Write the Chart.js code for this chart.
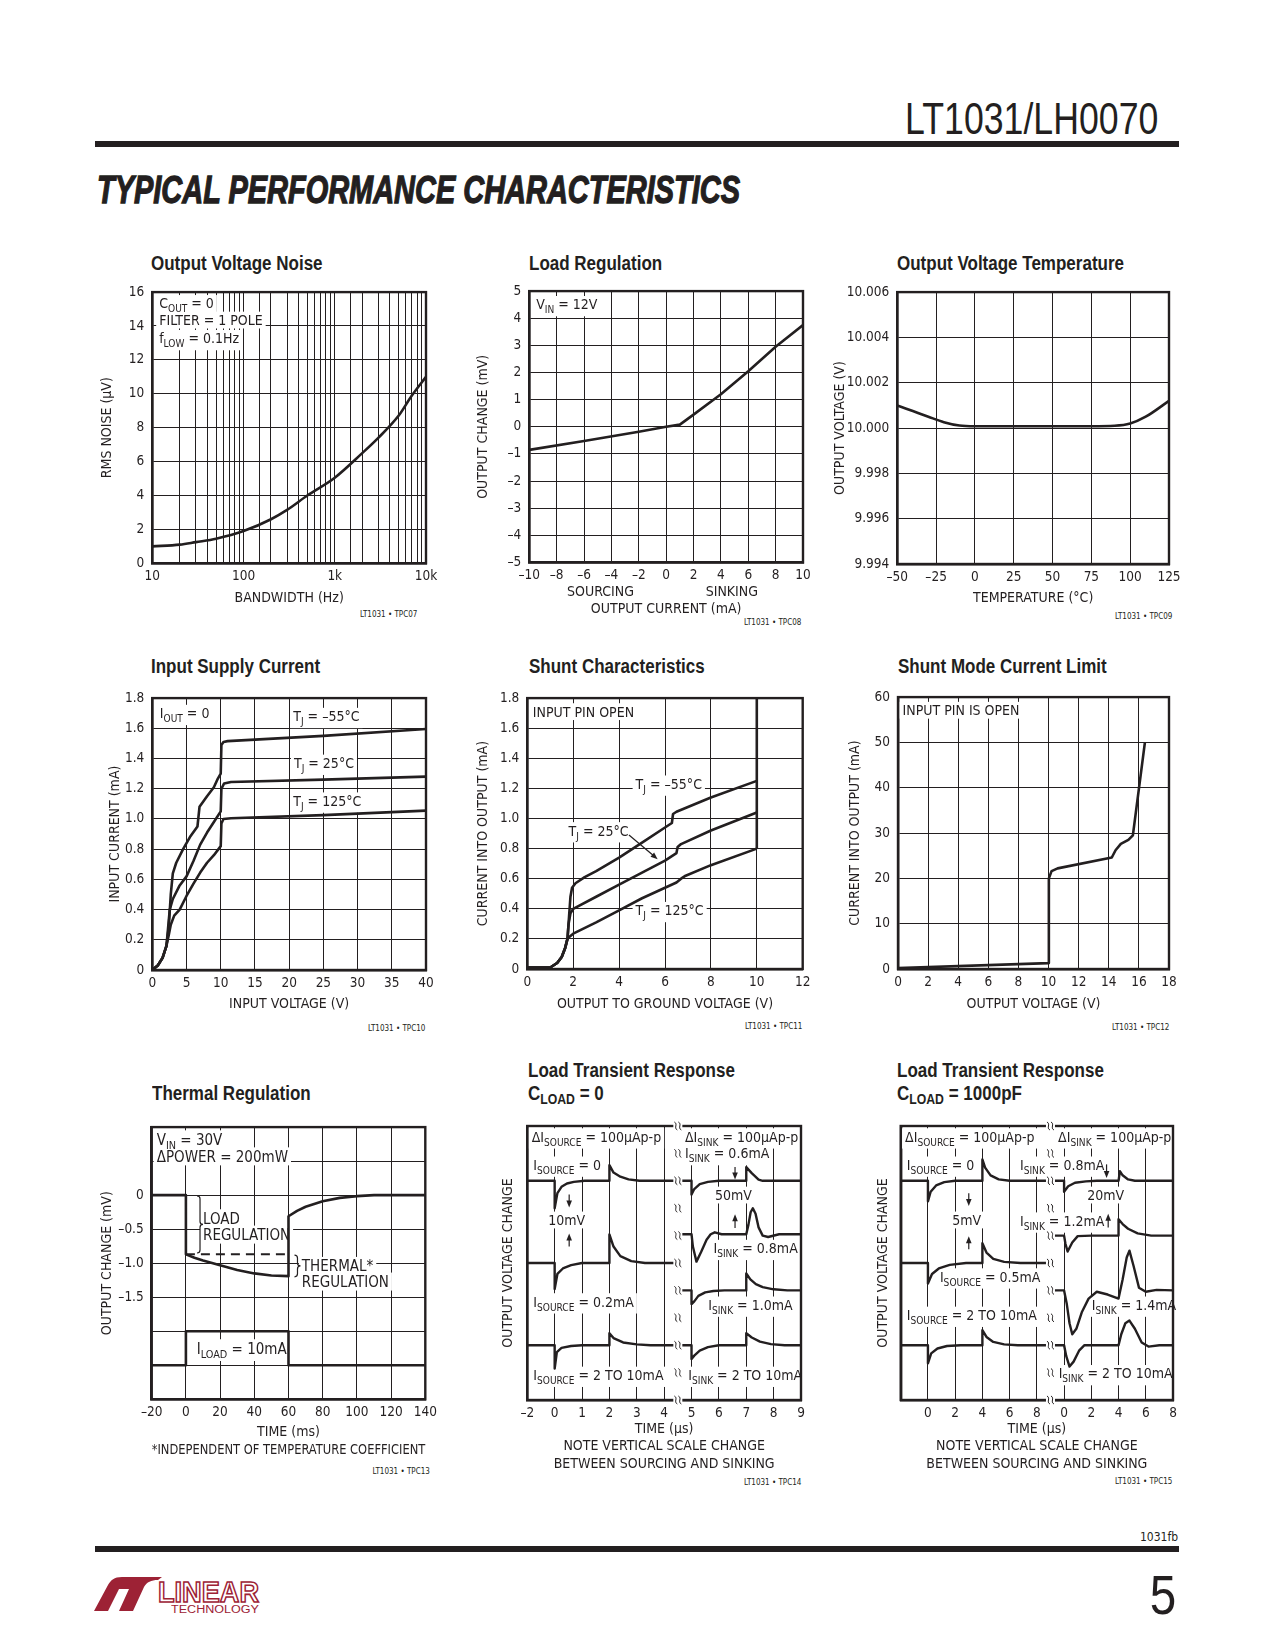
<!DOCTYPE html>
<html>
<head>
<meta charset="utf-8">
<script src="https://cdn.jsdelivr.net/npm/chart.js@4.4.0/dist/chart.umd.min.js"></script>
<style>
  body { margin: 0; background: #fff; }
  #page { position: relative; width: 1275px; height: 1650px; overflow: hidden; background: #fff; color: #231f20;
          font-family: 'Liberation Sans Narrow', 'DejaVu Sans Condensed', sans-serif; }
  .t { position: absolute; white-space: nowrap; line-height: 1; }
  .t sub { font-size: 0.72em; vertical-align: -0.28em; line-height: 0; }
  canvas { position: absolute; }
  .rule { position: absolute; background: #231f20; }
</style>
</head>
<body>
<div id="page"></div>
<script>
// ---------- data ----------

// Output Voltage Noise
const noiseBandwidth = [10, 20, 30, 50, 100, 200, 300, 500, 1000, 2000, 3000, 5000, 7000, 10000];
const noiseRms = [1.0, 1.1, 1.25, 1.45, 1.9, 2.6, 3.15, 4.0, 5.05, 6.5, 7.4, 8.7, 9.9, 11.0];
const noiseTickLabels = { 10: '10', 100: '100', 1000: '1k', 10000: '10k' };

// Load Regulation
const loadRegCurrent = [-10, -6, -2, 0, 1, 2, 4, 6, 8, 10];
const loadRegChange = [-0.85, -0.52, -0.18, 0, 0.08, 0.45, 1.2, 2.05, 2.95, 3.75];

// Output Voltage Temperature
const tempC = [-50, -40, -30, -20, -10, 0, 25, 50, 75, 90, 100, 110, 125];
const tempVout = [10.001, 10.00075, 10.0005, 10.00026, 10.00011, 10.00008, 10.00008, 10.00008, 10.00008, 10.0001, 10.0002, 10.0005, 10.0012];

// Input Supply Current
const supplyVinCold = [0, 0.8, 1.5, 2.07, 2.4, 2.7, 3.0, 3.5, 4.5, 5.5, 6.6, 6.9, 8.0, 9.0, 9.5, 10.0, 10.1, 10.4, 11, 25, 40];
const supplyIinCold = [0, 0.03, 0.08, 0.16, 0.28, 0.5, 0.64, 0.71, 0.8, 0.88, 0.95, 1.08, 1.15, 1.21, 1.26, 1.3, 1.49, 1.51, 1.515, 1.55, 1.595];
const supplyVinRoom = [0, 0.8, 1.5, 2.07, 2.55, 3.0, 4.0, 5.0, 6.0, 7.0, 8.0, 9.0, 10.0, 10.1, 10.5, 11.5, 25, 40];
const supplyIinRoom = [0, 0.03, 0.08, 0.16, 0.4, 0.47, 0.56, 0.62, 0.72, 0.83, 0.91, 0.98, 1.05, 1.2, 1.235, 1.245, 1.26, 1.28];
const supplyVinHot = [0, 0.8, 1.5, 2.07, 2.4, 2.7, 3.2, 4.0, 5.0, 6.0, 7.0, 8.0, 9.0, 10.0, 10.1, 10.4, 11.5, 25, 40];
const supplyIinHot = [0, 0.03, 0.08, 0.16, 0.23, 0.3, 0.36, 0.4, 0.49, 0.57, 0.645, 0.71, 0.76, 0.82, 0.97, 1.0, 1.005, 1.025, 1.055];

// Shunt Characteristics
const shuntVoutCold = [0, 1.0, 1.3, 1.5, 1.65, 1.75, 1.82, 1.88, 1.95, 2.1, 2.5, 3, 4, 5, 6, 6.3, 6.35, 6.5, 8, 10];
const shuntIoutCold = [0.01, 0.01, 0.04, 0.08, 0.14, 0.2, 0.35, 0.48, 0.54, 0.57, 0.61, 0.65, 0.74, 0.84, 0.94, 0.97, 1.03, 1.045, 1.14, 1.25];
const shuntVoutRoom = [0, 1.0, 1.3, 1.5, 1.65, 1.75, 1.8, 1.88, 2.0, 3, 4, 5, 6, 6.5, 6.55, 6.7, 8, 10];
const shuntIoutRoom = [0.01, 0.01, 0.04, 0.08, 0.14, 0.2, 0.3, 0.37, 0.4, 0.48, 0.56, 0.64, 0.72, 0.77, 0.81, 0.83, 0.92, 1.04];
const shuntVoutHot = [0, 1.0, 1.3, 1.5, 1.65, 1.75, 1.8, 2.0, 3, 4, 5, 6, 6.5, 6.7, 6.9, 8, 10];
const shuntIoutHot = [0.01, 0.01, 0.04, 0.08, 0.14, 0.2, 0.21, 0.235, 0.31, 0.39, 0.47, 0.54, 0.575, 0.6, 0.62, 0.69, 0.8];
const shuntClampV = [10, 10];
const shuntClampI = [0.8, 1.8];

// Shunt Mode Current Limit
const limitVout = [0, 10, 10.02, 10.2, 10.6, 14.2, 14.45, 14.8, 15.3, 15.6, 16.4];
const limitIout = [0.2, 1.3, 20, 21.6, 22.2, 24.6, 26.2, 27.6, 28.5, 29.5, 50];

// Thermal Regulation
const thermTime = [-20, 0, 0, 5, 10, 20, 30, 40, 50, 60, 60, 65, 70, 80, 90, 100, 110, 140];
const thermChange = [0, 0, -0.87, -0.92, -0.96, -1.03, -1.1, -1.15, -1.18, -1.19, -0.31, -0.23, -0.17, -0.09, -0.04, -0.015, 0, 0];
const thermLoadRegTime = [0, 60];
const thermLoadRegLevel = [-0.87, -0.87];
const thermStepTime = [-20, 0, 0, 60, 60, 140];
const thermStepLevel = [-2.5, -2.5, -2.0, -2.0, -2.5, -2.5];

// Load Transient Response, CLOAD = 0 (grid divisions)
const c0TickLabels = ['–2', '0', '1', '2', '3', '4', '5', '6', '7', '8', '9'];
const c0Src0X = [0, 1, 1, 1.1, 1.25, 1.45, 1.7, 2.1, 3, 3, 3.15, 3.4, 3.7, 4.1, 5.5];
const c0Src0Y = [8, 8, 7.0, 7.55, 7.78, 7.9, 7.96, 8, 8, 8.57, 8.3, 8.15, 8.05, 8, 8];
const c0Src02X = [0, 1, 1, 1.1, 1.3, 1.6, 2.0, 3, 3, 3.15, 3.4, 3.8, 4.3, 5.5];
const c0Src02Y = [5, 5, 4.05, 4.6, 4.8, 4.92, 5, 5, 6.04, 5.6, 5.25, 5.07, 5, 5];
const c0Src10X = [0, 1, 1, 1.08, 1.25, 1.6, 2, 3, 3, 3.15, 3.5, 4, 4.5, 5.5];
const c0Src10Y = [2, 2, 1.15, 1.75, 1.9, 1.97, 2, 2, 2.44, 2.26, 2.1, 2.03, 2, 2];
const c0Sink06X = [5.5, 6, 6, 6.1, 6.3, 6.6, 7, 8, 8, 8.2, 8.45, 8.6, 10];
const c0Sink06Y = [8, 8, 7.5, 7.7, 7.88, 7.96, 8, 8, 8.5, 8.28, 8.04, 8, 8];
const c0Sink08X = [5.5, 6, 6.05, 6.18, 6.35, 6.55, 6.7, 6.85, 7.1, 8, 8.08, 8.16, 8.24, 8.34, 8.45, 8.6, 8.8, 9.2, 10];
const c0Sink08Y = [6.05, 6.05, 5.6, 5.05, 5.4, 5.85, 6.05, 6.12, 6.05, 6.05, 6.4, 6.85, 7.0, 6.8, 6.3, 6.0, 5.95, 6.05, 6.05];
const c0Sink10X = [5.5, 6, 6, 6.1, 6.25, 6.5, 6.8, 7.2, 8, 8, 8.15, 8.35, 8.6, 9, 9.5, 10];
const c0Sink10Y = [4, 4, 3.5, 3.6, 3.8, 3.93, 3.98, 4, 4, 4.62, 4.4, 4.23, 4.12, 4.04, 4, 4];
const c0SinkBigX = [5.5, 6, 6, 6.1, 6.3, 6.6, 7, 8, 8, 8.2, 8.5, 8.9, 9.4, 10];
const c0SinkBigY = [2, 2, 1.5, 1.62, 1.8, 1.93, 2, 2, 2.44, 2.28, 2.13, 2.04, 2, 2];

// Load Transient Response, CLOAD = 1000pF (grid divisions)
const c1kTickLabels = ['', '0', '2', '4', '6', '8', '0', '2', '4', '6', '8'];
const c1kSrc0X = [0, 1, 1, 1.1, 1.3, 1.6, 2, 3, 3, 3.1, 3.3, 3.6, 4, 5.5];
const c1kSrc0Y = [8, 8, 7.25, 7.6, 7.83, 7.95, 8, 8, 8.78, 8.48, 8.2, 8.05, 8, 8];
const c1kSrc05X = [0, 1, 1, 1.15, 1.4, 1.8, 2.4, 3, 3, 3.15, 3.4, 3.8, 4.4, 5.5];
const c1kSrc05Y = [5, 5, 4.25, 4.6, 4.8, 4.93, 5, 5, 5.72, 5.38, 5.15, 5.04, 5, 5];
const c1kSrc10X = [0, 1, 1, 1.12, 1.35, 1.7, 2.2, 3, 3, 3.15, 3.4, 3.8, 4.3, 5.5];
const c1kSrc10Y = [2, 2, 1.34, 1.7, 1.88, 1.97, 2, 2, 2.55, 2.3, 2.12, 2.03, 2, 2];
const c1kSink08X = [5.5, 6, 6, 6.15, 6.4, 6.8, 7.2, 8, 8.05, 8.15, 8.35, 8.6, 10];
const c1kSink08Y = [8, 8, 7.6, 7.8, 7.93, 7.98, 8, 8, 8.35, 8.2, 8.05, 8, 8];
const c1kSink12X = [5.5, 6, 6.05, 6.13, 6.3, 6.5, 7, 8, 8, 8.15, 8.35, 8.7, 9.2, 10];
const c1kSink12Y = [6, 6, 5.7, 5.42, 5.75, 5.98, 6, 6, 6.6, 6.42, 6.25, 6.08, 6, 6];
const c1kSink14X = [5.5, 6, 6.1, 6.2, 6.3, 6.45, 6.65, 6.9, 7.2, 7.6, 8, 8.15, 8.3, 8.4, 8.55, 8.75, 9, 9.4, 10];
const c1kSink14Y = [4, 4, 3.5, 2.8, 2.4, 2.6, 3.2, 3.7, 3.95, 3.85, 3.7, 4.4, 5.2, 5.45, 4.9, 4.1, 3.95, 4.02, 4.0];
const c1kSinkBigX = [5.5, 6, 6.08, 6.2, 6.35, 6.55, 6.75, 8, 8.1, 8.25, 8.4, 8.6, 8.85, 9.1, 9.5, 10];
const c1kSinkBigY = [2, 2, 1.6, 1.22, 1.4, 1.8, 2.0, 2.0, 2.4, 2.8, 2.9, 2.6, 2.1, 1.95, 2, 2];

// ---------- drawing ----------
const FONT = "'Liberation Sans Narrow', 'DejaVu Sans Condensed', sans-serif";
const ARIAL = "'Liberation Sans', Arial, sans-serif";
const INK = '#231f20';
const page = document.getElementById('page');
const fmt = v => (v < 0 ? '–' : '') + Math.abs(v);

// place html text by its baseline; cond squeezes it, fit squeezes it to a given width
function text(html, x, base, size, o = {}) {
  const d = document.createElement('div');
  d.className = 't';
  d.innerHTML = html;
  d.style.fontSize = size + 'px';
  d.style.top = (base - 0.847 * size) + 'px';
  if (o.weight) d.style.fontWeight = o.weight;
  if (o.italic) d.style.fontStyle = 'italic';
  if (o.family) d.style.fontFamily = o.family;
  if (o.stroke) d.style.webkitTextStroke = o.stroke;
  page.appendChild(d);
  const w = d.offsetWidth;
  const k = o.fit ? o.fit / w : (o.cond || 1);
  d.style.left = (o.right ? x - w : x) + 'px';
  if (k !== 1) {
    d.style.transformOrigin = o.right ? 'right top' : 'left top';
    d.style.transform = `scaleX(${k})`;
  }
  return d;
}

function rule(x, y, w, h) {
  const d = document.createElement('div');
  d.className = 'rule';
  Object.assign(d.style, { left: x + 'px', top: y + 'px', width: w + 'px', height: h + 'px' });
  page.appendChild(d);
}

function line(xs, ys, o = {}) {
  return {
    data: xs.map((x, i) => ({ x, y: ys[i] })),
    showLine: true, borderColor: INK, borderWidth: o.w || 2.6, borderDash: o.dash || [],
    pointRadius: 0, tension: o.smooth ? 0.4 : 0,
    cubicInterpolationMode: o.smooth ? 'monotone' : 'default',
    borderJoinStyle: 'round', fill: false
  };
}

function richParts(s) {
  return s.split(/(_\{[^}]*\})/).filter(Boolean)
    .map(p => p.startsWith('_{') ? { t: p.slice(2, -1), sub: true } : { t: p, sub: false });
}

function squiggle(ctx, px, py) {
  ctx.fillStyle = '#fff';
  ctx.fillRect(px - 4.5, py - 3, 9, 6);
  ctx.lineWidth = 1;
  for (const dx of [-2, 2]) {
    ctx.beginPath();
    ctx.moveTo(px + dx - 1.5, py - 4);
    ctx.bezierCurveTo(px + dx + 2.5, py - 2, px + dx - 2.5, py + 2, px + dx + 1.5, py + 4);
    ctx.stroke();
  }
}

const notesPlugin = {
  id: 'notes',
  beforeDatasetsDraw(chart, args, opts) {
    const { ctx } = chart;
    const sx = chart.scales.x, sy = chart.scales.y;
    const items = opts.items || [];
    ctx.save();
    items.filter(n => n.s).forEach(n => {
      const size = n.size || opts.size || 14;
      n.parts = richParts(n.s);
      n.w = 0;
      n.parts.forEach(p => {
        ctx.font = `${p.sub ? size * 0.72 : size}px ${FONT}`;
        p.w = ctx.measureText(p.t).width;
        n.w += p.w;
      });
      n.sz = size;
      n.px = sx.getPixelForValue(n.x);
      n.py = sy.getPixelForValue(n.y);
      n.x0 = n.align === 'center' ? n.px - n.w / 2 : n.px;
      if (n.bg !== false) {
        const hasSub = n.parts.some(p => p.sub);
        ctx.fillStyle = '#fff';
        ctx.fillRect(n.x0 - 3, n.py - size * 0.6, n.w + 6, size * (hasSub ? 1.45 : 1.2));
      }
    });
    ctx.fillStyle = INK;
    ctx.strokeStyle = INK;
    items.forEach(n => {
      if (n.s) {
        let x = n.x0;
        const base = n.py + n.sz * 0.36;
        ctx.textBaseline = 'alphabetic';
        ctx.textAlign = 'left';
        n.parts.forEach(p => {
          ctx.font = `${p.sub ? n.sz * 0.72 : n.sz}px ${FONT}`;
          ctx.fillText(p.t, x, p.sub ? base + n.sz * 0.28 : base);
          x += p.w;
        });
      } else if (n.t === 'arrow') {
        const x1 = sx.getPixelForValue(n.x1), y1 = sy.getPixelForValue(n.y1);
        const x2 = sx.getPixelForValue(n.x2), y2 = sy.getPixelForValue(n.y2);
        const a = Math.atan2(y2 - y1, x2 - x1), hl = 7, hw = 2.8;
        ctx.lineWidth = 1.2;
        ctx.beginPath();
        ctx.moveTo(x1, y1);
        ctx.lineTo(x2 - Math.cos(a) * hl * 0.8, y2 - Math.sin(a) * hl * 0.8);
        ctx.stroke();
        ctx.beginPath();
        ctx.moveTo(x2, y2);
        ctx.lineTo(x2 - Math.cos(a) * hl - Math.sin(a) * hw, y2 - Math.sin(a) * hl + Math.cos(a) * hw);
        ctx.lineTo(x2 - Math.cos(a) * hl + Math.sin(a) * hw, y2 - Math.sin(a) * hl - Math.cos(a) * hw);
        ctx.closePath();
        ctx.fill();
      } else if (n.t === 'brace') {
        const x = sx.getPixelForValue(n.x), t = sy.getPixelForValue(n.y1), b = sy.getPixelForValue(n.y2);
        const m = (t + b) / 2, w = 3;
        ctx.lineWidth = 1.2;
        ctx.beginPath();
        ctx.moveTo(x, t);
        ctx.quadraticCurveTo(x + w, t, x + w, t + w);
        ctx.lineTo(x + w, m - w);
        ctx.quadraticCurveTo(x + w, m, x + 2 * w, m);
        ctx.quadraticCurveTo(x + w, m, x + w, m + w);
        ctx.lineTo(x + w, b - w);
        ctx.quadraticCurveTo(x + w, b, x, b);
        ctx.stroke();
      }
    });
    ctx.restore();
  },
  afterDatasetsDraw(chart, args, opts) {
    const { ctx, chartArea: a } = chart;
    ctx.save();
    ctx.strokeStyle = INK;
    ctx.lineWidth = 2.4;
    ctx.strokeRect(a.left, a.top, a.right - a.left, a.bottom - a.top);
    if (opts.breakAt != null) {
      const px = chart.scales.x.getPixelForValue(opts.breakAt);
      for (let v = 0; v <= 10; v++) squiggle(ctx, px, chart.scales.y.getPixelForValue(v));
    }
    ctx.restore();
  }
};

function makeChart(spec) {
  const [L, T, R, B] = spec.plot;
  const nLines = Array.isArray(spec.x.title) ? spec.x.title.length : 1;
  const lh = spec.x.lh || 17;
  const left = Math.round(spec.titleX - 10), top = Math.round(T - 14);
  const W = Math.round(R + 22 - left);
  const H = Math.round(spec.xTitleY + (nLines - 1) * lh + lh / 2 + 2 - top);
  const padL = L - left, padT = T - top, padR = W - (R - left), padB = H - (B - top);

  const cv = document.createElement('canvas');
  cv.width = W; cv.height = H;
  cv.style.left = left + 'px'; cv.style.top = top + 'px';
  cv.style.width = W + 'px'; cv.style.height = H + 'px';
  page.appendChild(cv);

  const tickFont = { family: FONT, size: 13.5 };
  new Chart(cv, {
    type: 'scatter',
    data: { datasets: spec.datasets },
    plugins: [notesPlugin],
    options: {
      responsive: false,
      animation: false,
      layout: { padding: { top: padT, right: padR, left: 0, bottom: 0 } },
      plugins: {
        legend: { display: false },
        tooltip: { enabled: false },
        notes: { items: spec.notes || [], breakAt: spec.breakAt, size: spec.noteSize }
      },
      scales: {
        x: {
          type: spec.x.type || 'linear', min: spec.x.min, max: spec.x.max,
          ticks: { stepSize: spec.x.step, autoSkip: false, maxRotation: 0, minRotation: 0, maxTicksLimit: 100,
                   padding: 5, color: INK, font: tickFont, callback: spec.x.cb },
          grid: { color: INK, lineWidth: 1, drawTicks: false },
          border: { color: INK, width: 2.4 },
          title: { display: true, text: spec.x.title, color: INK,
                   font: { family: FONT, size: 14, lineHeight: lh + 'px' }, padding: { top: 0, bottom: 2 } },
          afterFit: s => { s.height = padB; }
        },
        y: {
          min: spec.y.min, max: spec.y.max,
          ticks: { stepSize: spec.y.step, autoSkip: false, maxTicksLimit: 100, padding: 8, color: INK,
                   font: tickFont, callback: spec.y.cb, display: spec.y.cb !== null },
          grid: { color: INK, lineWidth: 1, drawTicks: false },
          border: { color: INK, width: 2.4 },
          title: { display: true, text: spec.y.title, color: INK,
                   font: { family: FONT, size: 14, lineHeight: '17px' }, padding: { top: 1.5, bottom: 0 } },
          afterFit: s => { s.width = padL; }
        }
      }
    }
  });
}

// ---------- page furniture ----------
text('LT1031/LH0070', 1158, 134.7, 44, { right: true, fit: 253, family: ARIAL });
rule(94.5, 141, 1084.5, 5.5);
text('TYPICAL PERFORMANCE CHARACTERISTICS', 96.6, 203, 39,
     { weight: 'bold', italic: true, family: ARIAL, fit: 643, stroke: '1.3px #231f20' });

const chartTitles = [
  ['Output Voltage Noise', 150.5, 269.5], ['Load Regulation', 529.3, 269.5], ['Output Voltage Temperature', 897.3, 269.5],
  ['Input Supply Current', 151, 673.3], ['Shunt Characteristics', 529, 673.3], ['Shunt Mode Current Limit', 898, 673.3],
  ['Thermal Regulation', 151.7, 1100], ['Load Transient Response', 528, 1077.3], ['C<sub>LOAD</sub> = 0', 528, 1100],
  ['Load Transient Response', 896.7, 1077.3], ['C<sub>LOAD</sub> = 1000pF', 896.7, 1100]
];
chartTitles.forEach(([s, x, y]) => text(s, x, y, 20, { weight: 'bold', family: ARIAL, cond: 0.85 }));

const codes = [
  ['LT1031 • TPC07', 417, 618], ['LT1031 • TPC08', 801, 625.5], ['LT1031 • TPC09', 1172, 620],
  ['LT1031 • TPC10', 425, 1031.5], ['LT1031 • TPC11', 802, 1029.5], ['LT1031 • TPC12', 1169, 1030.5],
  ['LT1031 • TPC13', 429.5, 1474.5], ['LT1031 • TPC14', 801, 1485.5], ['LT1031 • TPC15', 1172, 1484.5]
];
codes.forEach(([s, x, y]) => text(s, x, y, 8, { right: true }));

rule(94.5, 1546, 1084.5, 6);
text('1031fb', 1178, 1541, 12, { right: true });
text('5', 1176, 1614, 56, { right: true, family: ARIAL, cond: 0.85 });

const logo = document.createElement('div');
logo.style.cssText = 'position:absolute;left:92px;top:1574px;width:170px;height:40px';
logo.innerHTML = `<svg width="170" height="40" viewBox="0 0 170 40">
  <path d="M2 37 L16 37 L27 15 L37 15 L27 37 L41 37 L52 13 C55 8 59 6 66 6 L70 3 L30 3 C22 3 19 6 16 11 Z" fill="#9d2235"/>
  <text x="66" y="28" font-family="'Liberation Sans', sans-serif" font-weight="bold" font-size="30"
        textLength="101" lengthAdjust="spacingAndGlyphs" fill="#fff" stroke="#9d2235" stroke-width="1.6">LINEAR</text>
  <text x="79" y="39" font-family="'Liberation Sans', sans-serif" font-size="10"
        textLength="88" lengthAdjust="spacingAndGlyphs" fill="#9d2235">TECHNOLOGY</text></svg>`;
page.appendChild(logo);

// ---------- the nine charts ----------
makeChart({
  plot: [152.3, 290, 426, 563.3], titleX: 106.7, xTitleY: 598,
  x: { type: 'logarithmic', min: 10, max: 10000, cb: v => noiseTickLabels[Math.round(v)] ?? '', title: 'BANDWIDTH (Hz)' },
  y: { min: 0, max: 16, step: 2, cb: v => String(v), title: 'RMS NOISE (µV)' },
  datasets: [line(noiseBandwidth, noiseRms, { smooth: true })],
  notes: [
    { x: 11.9, y: 15.33, s: 'C_{OUT} = 0' },
    { x: 11.9, y: 14.35, s: 'FILTER = 1 POLE' },
    { x: 11.9, y: 13.27, s: 'f_{LOW} = 0.1Hz' }
  ]
});

makeChart({
  plot: [529.3, 288.5, 803, 562.5], titleX: 482.7, xTitleY: 609.5,
  x: { min: -10, max: 10, step: 2, cb: fmt, title: 'OUTPUT CURRENT (mA)' },
  y: { min: -5, max: 5, step: 1, cb: fmt, title: 'OUTPUT CHANGE (mV)' },
  datasets: [line(loadRegCurrent, loadRegChange)],
  notes: [
    { x: -9.5, y: 4.51, s: 'V_{IN} = 12V' },
    { x: -4.8, y: -6.05, s: 'SOURCING', align: 'center', bg: false },
    { x: 4.8, y: -6.05, s: 'SINKING', align: 'center', bg: false }
  ]
});

makeChart({
  plot: [897.3, 290, 1169, 564], titleX: 840, xTitleY: 598,
  x: { min: -50, max: 125, step: 25, cb: fmt, title: 'TEMPERATURE (°C)' },
  y: { min: 9.994, max: 10.006, step: 0.002, cb: v => v.toFixed(3), title: 'OUTPUT VOLTAGE (V)' },
  datasets: [line(tempC, tempVout, { smooth: true })]
});

makeChart({
  plot: [152.3, 695.7, 426, 970], titleX: 115, xTitleY: 1004,
  x: { min: 0, max: 40, step: 5, cb: v => String(v), title: 'INPUT VOLTAGE (V)' },
  y: { min: 0, max: 1.8, step: 0.2, cb: v => (Math.abs(v) < 1e-9 ? '0' : v.toFixed(1)), title: 'INPUT CURRENT (mA)' },
  datasets: [line(supplyVinCold, supplyIinCold), line(supplyVinRoom, supplyIinRoom), line(supplyVinHot, supplyIinHot)],
  notes: [
    { x: 1.1, y: 1.70, s: 'I_{OUT} = 0' },
    { x: 20.6, y: 1.68, s: 'T_{J} = –55°C' },
    { x: 20.7, y: 1.37, s: 'T_{J} = 25°C' },
    { x: 20.6, y: 1.12, s: 'T_{J} = 125°C' }
  ]
});

makeChart({
  plot: [527.3, 695.7, 802.7, 969], titleX: 482.7, xTitleY: 1004,
  x: { min: 0, max: 12, step: 2, cb: v => String(v), title: 'OUTPUT TO GROUND VOLTAGE (V)' },
  y: { min: 0, max: 1.8, step: 0.2, cb: v => (Math.abs(v) < 1e-9 ? '0' : v.toFixed(1)), title: 'CURRENT INTO OUTPUT (mA)' },
  datasets: [line(shuntVoutCold, shuntIoutCold), line(shuntVoutRoom, shuntIoutRoom), line(shuntVoutHot, shuntIoutHot),
             line(shuntClampV, shuntClampI)],
  notes: [
    { x: 0.24, y: 1.71, s: 'INPUT PIN OPEN' },
    { x: 4.72, y: 1.23, s: 'T_{J} = –55°C' },
    { x: 1.8, y: 0.92, s: 'T_{J} = 25°C' },
    { t: 'arrow', x1: 4.43, y1: 0.89, x2: 5.68, y2: 0.73 },
    { x: 4.72, y: 0.39, s: 'T_{J} = 125°C' }
  ]
});

makeChart({
  plot: [898, 695, 1169, 969], titleX: 855, xTitleY: 1004,
  x: { min: 0, max: 18, step: 2, cb: v => String(v), title: 'OUTPUT VOLTAGE (V)' },
  y: { min: 0, max: 60, step: 10, cb: v => String(v), title: 'CURRENT INTO OUTPUT (mA)' },
  datasets: [line(limitVout, limitIout)],
  notes: [{ x: 0.3, y: 57.1, s: 'INPUT PIN IS OPEN' }]
});

makeChart({
  plot: [151.7, 1125, 425.3, 1399.3], titleX: 106.7, xTitleY: 1432,
  x: { min: -20, max: 140, step: 20, cb: fmt, lh: 18,
       title: ['TIME (ms)', '*INDEPENDENT OF TEMPERATURE COEFFICIENT'] },
  y: { min: -3, max: 1, step: 0.5, title: 'OUTPUT CHANGE (mV)',
       cb: v => { const k = Math.round(v * 10) / 10; return k === 0 ? '0' : (k < 0 && k >= -1.5 ? '–' + Math.abs(k).toFixed(1) : ''); } },
  datasets: [line(thermTime, thermChange), line(thermLoadRegTime, thermLoadRegLevel, { w: 2, dash: [9, 6] }),
             line(thermStepTime, thermStepLevel)],
  noteSize: 15,
  notes: [
    { x: -17.1, y: 0.82, s: 'V_{IN} = 30V' },
    { x: -17.1, y: 0.57, s: 'ΔPOWER = 200mW' },
    { x: 10, y: -0.34, s: 'LOAD' },
    { x: 10, y: -0.58, s: 'REGULATION' },
    { t: 'brace', x: 6.5, y1: -0.01, y2: -0.85 },
    { x: 67.8, y: -1.04, s: 'THERMAL*' },
    { x: 67.8, y: -1.27, s: 'REGULATION' },
    { t: 'brace', x: 63.5, y1: -0.88, y2: -1.2 },
    { x: 6.3, y: -2.25, s: 'I_{LOAD} = 10mA' }
  ]
});

makeChart({
  plot: [527.3, 1126, 801, 1400], titleX: 508.3, xTitleY: 1429,
  x: { min: 0, max: 10, step: 1, cb: v => c0TickLabels[Math.round(v)], lh: 17.5,
       title: ['TIME (µs)', 'NOTE VERTICAL SCALE CHANGE', 'BETWEEN SOURCING AND SINKING'] },
  y: { min: 0, max: 10, step: 1, cb: null, title: 'OUTPUT VOLTAGE CHANGE' },
  datasets: [c0Src0X, c0Src02X, c0Src10X, c0Sink06X, c0Sink08X, c0Sink10X, c0SinkBigX]
    .map((xs, i) => line(xs, [c0Src0Y, c0Src02Y, c0Src10Y, c0Sink06Y, c0Sink08Y, c0Sink10Y, c0SinkBigY][i], { w: 2.4 })),
  breakAt: 5.5,
  noteSize: 14,
  notes: [
    { x: 0.16, y: 9.61, s: 'ΔI_{SOURCE} = 100µAp-p' },
    { x: 5.76, y: 9.61, s: 'ΔI_{SINK} = 100µAp-p' },
    { x: 5.76, y: 9.0, s: 'I_{SINK} = 0.6mA' },
    { x: 0.22, y: 8.58, s: 'I_{SOURCE} = 0' },
    { t: 'arrow', x1: 1.53, y1: 7.5, x2: 1.53, y2: 7.03 },
    { x: 1.44, y: 6.57, s: '10mV', align: 'center' },
    { t: 'arrow', x1: 1.53, y1: 5.6, x2: 1.53, y2: 6.08 },
    { t: 'arrow', x1: 7.59, y1: 8.5, x2: 7.59, y2: 8.05 },
    { x: 7.53, y: 7.48, s: '50mV', align: 'center' },
    { t: 'arrow', x1: 7.59, y1: 6.28, x2: 7.59, y2: 6.78 },
    { x: 6.8, y: 5.54, s: 'I_{SINK} = 0.8mA' },
    { x: 0.22, y: 3.59, s: 'I_{SOURCE} = 0.2mA' },
    { x: 6.61, y: 3.47, s: 'I_{SINK} = 1.0mA' },
    { x: 0.22, y: 0.91, s: 'I_{SOURCE} = 2 TO 10mA' },
    { x: 5.88, y: 0.91, s: 'I_{SINK} = 2 TO 10mA' }
  ]
});

makeChart({
  plot: [900.7, 1126, 1173, 1400], titleX: 883.3, xTitleY: 1429,
  x: { min: 0, max: 10, step: 1, cb: v => c1kTickLabels[Math.round(v)], lh: 17.5,
       title: ['TIME (µs)', 'NOTE VERTICAL SCALE CHANGE', 'BETWEEN SOURCING AND SINKING'] },
  y: { min: 0, max: 10, step: 1, cb: null, title: 'OUTPUT VOLTAGE CHANGE' },
  datasets: [c1kSrc0X, c1kSrc05X, c1kSrc10X, c1kSink08X, c1kSink12X, c1kSink14X, c1kSinkBigX]
    .map((xs, i) => line(xs, [c1kSrc0Y, c1kSrc05Y, c1kSrc10Y, c1kSink08Y, c1kSink12Y, c1kSink14Y, c1kSinkBigY][i], { w: 2.4 })),
  breakAt: 5.5,
  noteSize: 14,
  notes: [
    { x: 0.16, y: 9.61, s: 'ΔI_{SOURCE} = 100µAp-p' },
    { x: 5.78, y: 9.61, s: 'ΔI_{SINK} = 100µAp-p' },
    { x: 0.22, y: 8.58, s: 'I_{SOURCE} = 0' },
    { x: 4.38, y: 8.58, s: 'I_{SINK} = 0.8mA' },
    { t: 'arrow', x1: 7.56, y1: 8.6, x2: 7.56, y2: 8.1 },
    { x: 7.53, y: 7.48, s: '20mV', align: 'center' },
    { x: 4.38, y: 6.54, s: 'I_{SINK} = 1.2mA' },
    { t: 'arrow', x1: 7.62, y1: 6.3, x2: 7.62, y2: 6.8 },
    { x: 2.42, y: 6.57, s: '5mV', align: 'center' },
    { t: 'arrow', x1: 2.5, y1: 7.55, x2: 2.5, y2: 7.08 },
    { t: 'arrow', x1: 2.5, y1: 5.5, x2: 2.5, y2: 5.98 },
    { x: 1.44, y: 4.5, s: 'I_{SOURCE} = 0.5mA' },
    { x: 0.22, y: 3.1, s: 'I_{SOURCE} = 2 TO 10mA' },
    { x: 7.02, y: 3.47, s: 'I_{SINK} = 1.4mA' },
    { x: 5.8, y: 0.97, s: 'I_{SINK} = 2 TO 10mA' }
  ]
});
</script>
</body>
</html>
